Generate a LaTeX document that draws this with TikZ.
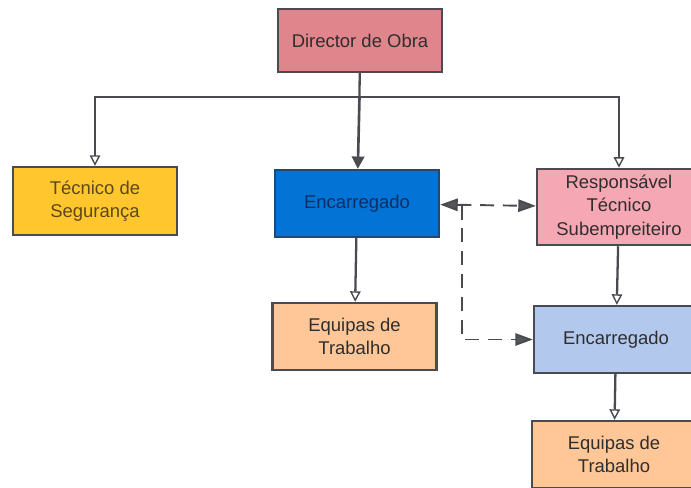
\documentclass[tikz,border=0pt]{standalone}
\usepackage{fontspec}
\setmainfont{Liberation Sans}
\usetikzlibrary{arrows.meta}
\definecolor{linegray}{HTML}{4A4B50}
\definecolor{headgray}{HTML}{55565A}
\definecolor{directorred}{HTML}{E0858C}
\definecolor{segyellow}{HTML}{FFC62E}
\definecolor{encblue}{HTML}{0473D6}
\definecolor{encline}{HTML}{1F4A78}
\definecolor{enctext}{HTML}{0E2F5E}
\definecolor{segtext}{HTML}{5E4818}
\definecolor{teamorange}{HTML}{FFC797}
\definecolor{resppink}{HTML}{F5A8B4}
\definecolor{subblue}{HTML}{B2C8EC}
\tikzset{
  box/.style={rectangle,draw=linegray,line width=1.3pt,minimum width=3.28cm,minimum height=1.34cm,
    align=center,font=\fontsize{10.5}{13.4}\selectfont,text=black!82},
  link/.style={draw=linegray,line width=1.3pt,-{Triangle[open,length=6pt,width=6pt,line width=0.8pt]}},
  strong/.style={draw=linegray,line width=1.5pt,-{Triangle[length=7pt,width=7pt]}},
  dashlink/.style={draw=linegray,line width=1.1pt,dash pattern=on 8pt off 5pt,
    -{Triangle[length=10pt,width=7pt,fill=headgray]}}
}
\begin{document}
\begin{tikzpicture}
        \clip (0,0) rectangle (13.82,-9.76);

        \node[box,fill=directorred,minimum height=1.26cm] (director) at (7.2,-0.81) {Director de Obra};
        \node[box,fill=segyellow,text=segtext,minimum height=1.36cm] (tecnico) at (1.9,-4.02) {Técnico de\\Segurança};
        \node[box,fill=encblue,draw=encline,text=enctext] (encarregado) at (7.14,-4.07) {Encarregado};
        \node[box,fill=teamorange] (equipas) at (7.09,-6.73) {Equipas de\\Trabalho};
        \node[box,fill=resppink,minimum height=1.32cm] (responsavel) at (12.38,-4.14) {Responsável\\Técnico\\Subempreiteiro};
        \node[box,fill=subblue] (subencarregado) at (12.32,-6.79) {Encarregado};
        \node[box,fill=teamorange] (subequipas) at (12.28,-9.09) {Equipas de\\Trabalho};

        \coordinate (bus) at (7.19,-1.94);
        \coordinate (dashjoin) at (9.24,-4.11);

        \draw[draw=linegray,line width=1.3pt] (director) -- (bus);
        \draw[link] (bus) -| (tecnico);
        \draw[link] (bus) -| (responsavel);
        \draw[strong] (bus) -- (encarregado);
        \draw[link] (encarregado) -- (equipas);
        \draw[link] (responsavel) -- (subencarregado);
        \draw[link] (subencarregado) -- (subequipas);

        \draw[dashlink,{Triangle[length=10pt,width=7pt,fill=headgray]}-{Triangle[length=10pt,width=7pt,fill=headgray]}] (encarregado) -- (responsavel);
        \draw[dashlink] (dashjoin) |- (subencarregado);
\end{tikzpicture}
\end{document}
